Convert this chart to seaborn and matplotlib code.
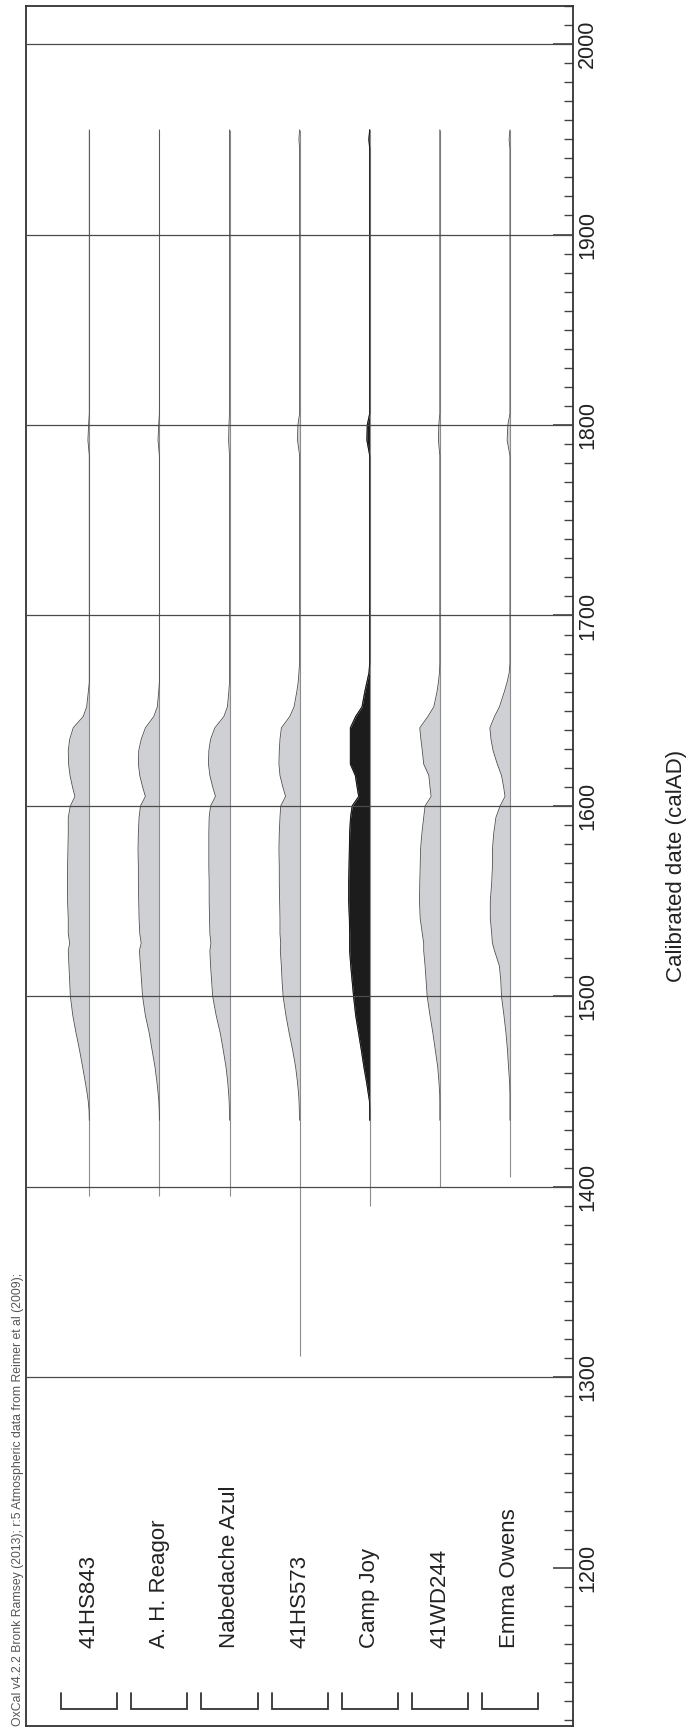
"""
Recreation of an OxCal multi-plot (rotated): calibrated date distributions
for seven sites, drawn as ridges hanging off vertical baselines.
"""

import numpy as np
import pandas as pd
import matplotlib
matplotlib.use("Agg")
import matplotlib.pyplot as plt
import seaborn as sns
from matplotlib.ticker import MultipleLocator

sns.set_theme(style="white")
plt.rcParams["font.family"] = ["Liberation Sans", "DejaVu Sans"]

# -------------------------------------------------------------------------
# DATA (widths are relative probability)
# -------------------------------------------------------------------------
samples = ["41HS843", "A. H. Reagor", "Nabedache Azul", "41HS573",
           "Camp Joy", "41WD244", "Emma Owens"]
line_start = [1395, 1395, 1395, 1311, 1390, 1400, 1405]
line_end = 1955

dates = [1955, 1950, 1945, 1806, 1800, 1792, 1784, 1675, 1670, 1665, 1660,
         1652, 1647, 1641, 1635, 1629, 1622, 1616, 1610, 1605, 1600, 1594,
         1586, 1577, 1568, 1560, 1550, 1541, 1533, 1528, 1524, 1516, 1508,
         1500, 1490, 1481, 1472, 1463, 1455, 1449, 1445, 1440, 1435]

prob_41hs843 = [0, 0, 0, 0, 0.01, 0.02, 0, 0, 0, 0, 0.014,
                0.038, 0.086, 0.23, 0.28, 0.30, 0.295, 0.275, 0.24, 0.205, 0.27, 0.30,
                0.30, 0.305, 0.31, 0.31, 0.31, 0.30, 0.30, 0.28, 0.30, 0.29, 0.28,
                0.27, 0.235, 0.19, 0.14, 0.095, 0.057, 0.03, 0.015, 0.003, 0]
prob_reagor = [0, 0, 0, 0, 0.01, 0.02, 0, 0, 0, 0, 0.01,
               0.03, 0.08, 0.20, 0.26, 0.295, 0.30, 0.28, 0.24, 0.20, 0.27, 0.29,
               0.30, 0.305, 0.30, 0.30, 0.295, 0.29, 0.28, 0.26, 0.285, 0.27, 0.255,
               0.24, 0.20, 0.146, 0.105, 0.063, 0.035, 0.018, 0.008, 0.002, 0]
prob_nabedache = [0, 0, 0, 0, 0.008, 0.013, 0, 0, 0, 0, 0.01,
                  0.03, 0.08, 0.21, 0.27, 0.295, 0.30, 0.28, 0.24, 0.20, 0.27, 0.29,
                  0.295, 0.295, 0.295, 0.29, 0.29, 0.285, 0.28, 0.265, 0.28, 0.27, 0.255,
                  0.24, 0.19, 0.133, 0.09, 0.05, 0.025, 0.012, 0.005, 0.001, 0]
prob_41hs573 = [0, 0.01, 0, 0, 0.025, 0.03, 0, 0, 0.01, 0.02, 0.04,
                0.08, 0.14, 0.26, 0.28, 0.29, 0.295, 0.28, 0.24, 0.20, 0.27, 0.28,
                0.29, 0.295, 0.29, 0.29, 0.285, 0.28, 0.28, 0.27, 0.275, 0.26, 0.25,
                0.235, 0.195, 0.15, 0.10, 0.057, 0.03, 0.015, 0.008, 0.004, 0.002]
prob_campjoy = [0, 0.012, 0, 0, 0.035, 0.04, 0, 0, 0.01, 0.04, 0.07,
                0.11, 0.20, 0.276, 0.276, 0.276, 0.276, 0.205, 0.18, 0.157, 0.25, 0.273,
                0.286, 0.29, 0.295, 0.30, 0.30, 0.29, 0.286, 0.286, 0.286, 0.27, 0.25,
                0.23, 0.20, 0.16, 0.12, 0.083, 0.045, 0.02, 0.003, 0, 0]
prob_41wd244 = [0, 0, 0, 0, 0.015, 0.02, 0, 0, 0.005, 0.02, 0.04,
                0.086, 0.17, 0.286, 0.27, 0.25, 0.23, 0.157, 0.14, 0.124, 0.21, 0.23,
                0.255, 0.276, 0.28, 0.286, 0.29, 0.28, 0.25, 0.23, 0.23, 0.21, 0.195,
                0.18, 0.14, 0.10, 0.065, 0.03, 0.012, 0.002, 0, 0, 0]
prob_emma = [0, 0.012, 0, 0, 0.03, 0.04, 0, 0, 0.01, 0.04, 0.08,
             0.15, 0.22, 0.286, 0.27, 0.24, 0.18, 0.12, 0.09, 0.07, 0.14, 0.20,
             0.23, 0.25, 0.25, 0.26, 0.28, 0.28, 0.26, 0.25, 0.22, 0.15, 0.13,
             0.12, 0.085, 0.057, 0.035, 0.02, 0.005, 0, 0, 0, 0]

probs = [prob_41hs843, prob_reagor, prob_nabedache, prob_41hs573,
         prob_campjoy, prob_41wd244, prob_emma]

major_years = list(range(1200, 2001, 100))
grid_years = list(range(1300, 2001, 100))

credit = ("OxCal v4.2.2 Bronk Ramsey (2013); r:5 Atmospheric data "
          "from Reimer et al (2009);")

# long table: one row per (sample, date), x = baseline position minus width
rows = []
for i, (name, p) in enumerate(zip(samples, probs)):
    for d, w in zip(dates, p):
        rows.append({"sample": name, "pos": i, "date": d, "width": w})
df = pd.DataFrame(rows)
df["edge"] = df["pos"] - df["width"]

# -------------------------------------------------------------------------
# PLOT
# -------------------------------------------------------------------------
fig = plt.figure(figsize=(6.95, 17.32), dpi=100)
ax = fig.add_axes([0.037, 0.00346, 0.7875, 0.9931])

GRAY_FILL = "#cfd0d3"
EDGE = "#4d4d4d"
DARK = "#1c1c1c"

for i, name in enumerate(samples):
    sub = df[df["sample"] == name]
    face = DARK if name == "Camp Joy" else GRAY_FILL
    ax.fill_betweenx(sub["date"], sub["edge"], sub["pos"], color=face,
                     linewidth=0, zorder=2)
    ax.vlines(i, line_start[i], line_end, color="#8c8c8c", lw=0.8, zorder=3)

sns.lineplot(data=df, x="edge", y="date", units="sample", estimator=None,
             orient="y", sort=False, color=EDGE, lw=0.6, ax=ax, zorder=3)
sns.lineplot(data=df[df["sample"] == "Camp Joy"], x="edge", y="date",
             estimator=None, orient="y", sort=False, color=DARK, lw=0.8,
             ax=ax, zorder=4)

for yr in grid_years:
    ax.axhline(yr, color="#4a4a4a", lw=0.9, zorder=5)

# site labels and brackets
for i, name in enumerate(samples):
    ax.text(i, 1158, name, rotation=90, ha="center", va="bottom",
            fontsize=16, color="#222222")
    ax.plot([i - 0.4, i - 0.4, i + 0.4, i + 0.4],
            [1134.4, 1126, 1126, 1134.4], color="#333333", lw=1.3,
            solid_joinstyle="miter")

ax.set_xlim(-0.907, 6.90)
ax.set_ylim(1117, 2020)
ax.set_xticks([])
ax.set_xlabel("")
ax.set_ylabel("")
ax.yaxis.tick_right()
ax.set_yticks(major_years)
ax.yaxis.set_minor_locator(MultipleLocator(10))
ax.tick_params(axis="y", which="major", direction="in", length=14.4,
               width=1.1, color="#333333", pad=3, labelsize=15.5,
               labelcolor="#222222", labelrotation=90, right=True, left=False)
ax.tick_params(axis="y", which="minor", direction="in", length=6.7,
               width=1.0, color="#444444", right=True, left=False)
for lab in ax.get_yticklabels():
    lab.set_va("center")

for sp in ax.spines.values():
    sp.set_visible(True)
    sp.set_color("#333333")
    sp.set_linewidth(1.3)

fig.text(0.974, 0.5, "Calibrated date (calAD)", rotation=90, ha="center",
         va="center", fontsize=16, color="#222222")
fig.text(0.026, 0.0035, credit, rotation=90, ha="center", va="bottom",
         fontsize=8.8, color="#555555")

fig.savefig("out.png", dpi=100, facecolor="white")
